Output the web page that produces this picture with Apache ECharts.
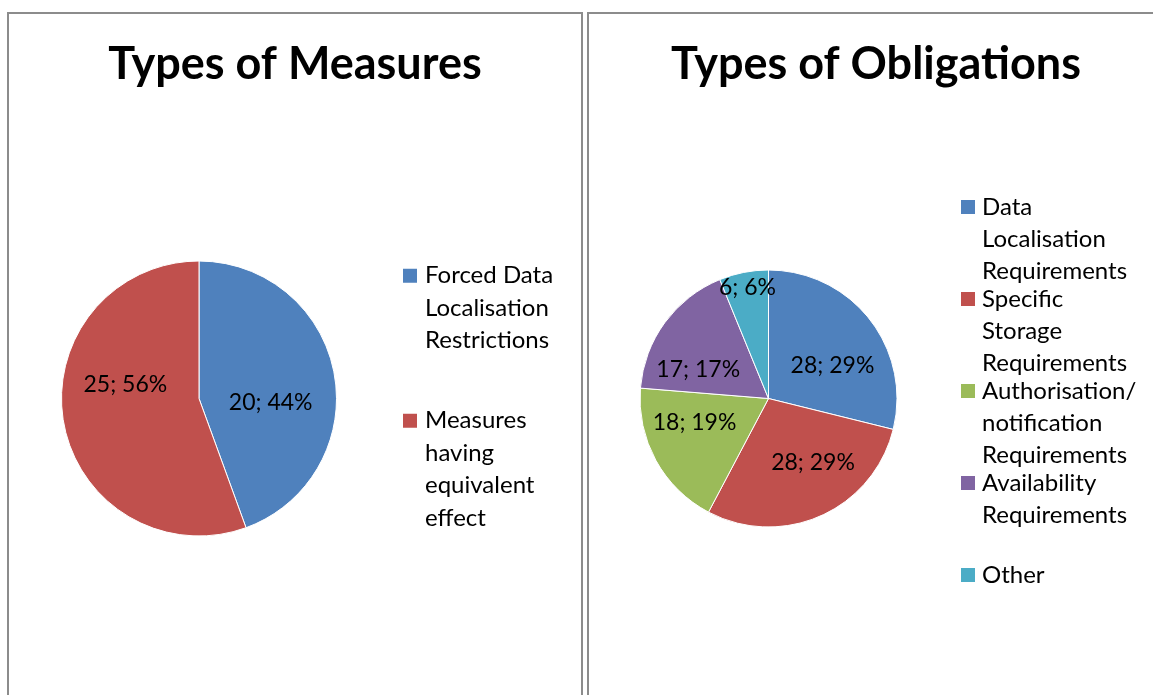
<!DOCTYPE html>
<html>
<head>
<meta charset="utf-8">
<title>Types of Measures / Types of Obligations</title>
<script src="https://cdn.jsdelivr.net/npm/echarts@6/dist/echarts.min.js"></script>
<style>
html,body{margin:0;padding:0;background:#fff;}
#wrap{position:relative;width:1153px;height:695px;overflow:hidden;}
.panel{position:absolute;top:12px;height:720px;border:2px solid #8c8c8c;border-bottom:none;box-sizing:border-box;}
#p1{left:7px;width:576px;}
#p2{left:587px;width:600px;}
#main{position:absolute;left:0;top:0;width:1153px;height:695px;}
</style>
</head>
<body>
<div id="wrap">
  <div class="panel" id="p1"></div>
  <div class="panel" id="p2"></div>
  <div id="main"></div>
</div>
<script>
// left chart
var measureNames = ['Forced Data Localisation Restrictions', 'Measures having equivalent effect'];
var measureValues = [20, 25];
var measureLegendLines = [
  ['Forced Data', 'Localisation', 'Restrictions'],
  ['Measures', 'having', 'equivalent', 'effect']
];

// right chart
var obligationNames = ['Data Localisation Requirements', 'Specific Storage Requirements',
  'Authorisation/ notification Requirements', 'Availability Requirements', 'Other'];
var obligationValues = [28, 28, 18, 17, 6];
var obligationLegendLines = [
  ['Data', 'Localisation', 'Requirements'],
  ['Specific', 'Storage', 'Requirements'],
  ['Authorisation/', 'notification', 'Requirements'],
  ['Availability', 'Requirements'],
  ['Other']
];

var colors = ['#4F81BD', '#C0504D', '#9BBB59', '#8064A2', '#4BACC6'];
var font = 'Lato, "Open Sans", sans-serif';

// label nudges so they sit where excel put them
var measureLabelOffsets = [[1, 17], [-3, -26]];
var obligationLabelOffsets = [[11, 9], [17, 3], [-15, -8], [-16, 11], [-8, -45]];

// legend text is centred on the icon, so pad with empty lines
// to get the icon next to the first line
function padLines(lines, before, total) {
  var out = [];
  for (var i = 0; i < before; i++) out.push('');
  out = out.concat(lines);
  while (out.length < total) out.push('');
  return out.join('\n');
}

function pieData(names, values, offsets) {
  return names.map(function (n, i) {
    return {
      name: n,
      value: values[i],
      itemStyle: { color: colors[i] },
      label: { offset: offsets[i] }
    };
  });
}

var myChart = echarts.init(document.getElementById('main'));

var pieCommon = {
  type: 'pie',
  startAngle: 90,
  clockwise: true,
  percentPrecision: 0,
  avoidLabelOverlap: false,
  itemStyle: { borderColor: '#fff', borderWidth: 1 },
  label: {
    show: true,
    position: 'inside',
    formatter: '{c}; {d}%',
    color: '#000',
    fontFamily: font,
    fontSize: 23
  },
  labelLine: { show: false },
  emphasis: { disabled: true },
  silent: true
};

var titleStyle = { fontFamily: font, fontSize: 45, fontWeight: 'bold', color: '#000' };
var legendIcon = { borderWidth: 0 };

var option = {
  animation: false,
  title: [{
    text: 'Types of Measures',
    left: 295, top: 64, padding: 0,
    textAlign: 'center', textVerticalAlign: 'middle',
    textStyle: titleStyle
  }, {
    text: 'Types of Obligations',
    left: 876, top: 64, padding: 0,
    textAlign: 'center', textVerticalAlign: 'middle',
    textStyle: titleStyle
  }],
  legend: [{
    orient: 'vertical',
    left: 403, top: 162, padding: 0,
    itemWidth: 14, itemHeight: 14, itemGap: -82.5,
    icon: 'rect',
    itemStyle: legendIcon,
    selectedMode: false,
    data: measureNames,
    formatter: function (name) {
      return padLines(measureLegendLines[measureNames.indexOf(name)], 3, 7);
    },
    textStyle: { fontFamily: font, fontSize: 24, lineHeight: 32.5, color: '#000', padding: [0, 0, 0, 3] }
  }, {
    orient: 'vertical',
    left: 961, top: 127, padding: 0,
    itemWidth: 14, itemHeight: 14, itemGap: -68,
    icon: 'rect',
    itemStyle: legendIcon,
    selectedMode: false,
    data: obligationNames,
    formatter: function (name) {
      return padLines(obligationLegendLines[obligationNames.indexOf(name)], 2, 5);
    },
    textStyle: { fontFamily: font, fontSize: 24, lineHeight: 32, color: '#000', padding: [0, 0, 0, 2] }
  }],
  series: [
    echarts.util.extend({
      name: 'Types of Measures',
      center: [199, 398.5],
      radius: 137.5,
      data: pieData(measureNames, measureValues, measureLabelOffsets)
    }, pieCommon),
    echarts.util.extend({
      name: 'Types of Obligations',
      center: [768.5, 398.5],
      radius: 128.5,
      data: pieData(obligationNames, obligationValues, obligationLabelOffsets)
    }, pieCommon)
  ]
};

myChart.setOption(option);
</script>
</body>
</html>
